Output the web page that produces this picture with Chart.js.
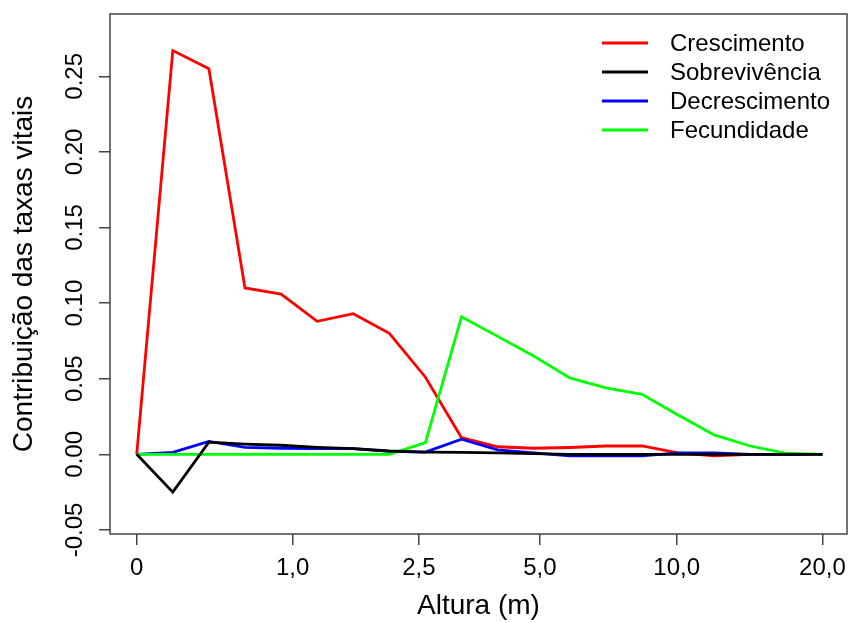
<!DOCTYPE html>
<html>
<head>
<meta charset="utf-8">
<script src="https://cdn.jsdelivr.net/npm/chart.js@4/dist/chart.umd.min.js"></script>
<style>
  body { margin: 0; background: #fff; }
  #wrap { width: 850px; height: 623px; }
</style>
</head>
<body>
<div id="wrap"><canvas id="chart" width="850" height="623"></canvas></div>
<script>
// ========================== Data ==========================
const seriesNames = ['Crescimento', 'Sobrevivência', 'Decrescimento', 'Fecundidade'];
const seriesColors = ['#ff0000', '#000000', '#0000ff', '#00ff00'];

const crescimento   = [0.000, 0.267, 0.255, 0.110, 0.106, 0.088, 0.093, 0.080, 0.051, 0.011,
                       0.005, 0.004, 0.0045, 0.0055, 0.0055, 0.001, -0.001, 0.000, 0.000, 0.000];
const sobrevivencia = [0.000, -0.025, 0.008, 0.0068, 0.006, 0.0046, 0.0037, 0.0022, 0.0015, 0.0013,
                       0.001, 0.0005, 0.000, 0.000, 0.000, 0.000, 0.000, 0.000, 0.000, 0.000];
const decrescimento = [0.000, 0.0013, 0.0085, 0.0046, 0.004, 0.0037, 0.0037, 0.002, 0.0015, 0.010,
                       0.003, 0.001, -0.001, -0.001, -0.001, 0.001, 0.001, 0.000, 0.000, 0.000];
const fecundidade   = [0.000, 0.000, 0.000, 0.000, 0.000, 0.000, 0.000, 0.000, 0.0077, 0.091,
                       0.078, 0.065, 0.0505, 0.044, 0.0397, 0.026, 0.0128, 0.0055, 0.0007, 0.000];

const allSeries = [crescimento, sobrevivencia, decrescimento, fecundidade];
const drawOrder = [3, 0, 2, 1]; // black on top, red at the bottom

// x ticks sit on the class index scale
const xTickPos = [0, 4.32, 7.82, 11.17, 14.96, 19];
const xTickLabels = ['0', '1,0', '2,5', '5,0', '10,0', '20,0'];
const yTicks = [-0.05, 0, 0.05, 0.10, 0.15, 0.20, 0.25];
const yTickLabels = ['-0.05', '0.00', '0.05', '0.10', '0.15', '0.20', '0.25'];

const FONT = "'Liberation Sans', Arial, sans-serif";

// ========================== Plugins ==========================
const boxAndLabels = {
  id: 'boxAndLabels',
  afterDraw(chart) {
    const ctx = chart.ctx;
    const a = chart.chartArea;
    ctx.save();
    ctx.strokeStyle = '#444';
    ctx.lineWidth = 1.5;
    ctx.strokeRect(a.left, a.top, a.right - a.left, a.bottom - a.top);

    // rotated y tick labels, like R's default las=0
    const ys = chart.scales.y;
    ctx.fillStyle = '#000';
    ctx.font = '24px ' + FONT;
    ctx.textAlign = 'center';
    ctx.textBaseline = 'alphabetic';
    yTicks.forEach((v, i) => {
      ctx.save();
      ctx.translate(82, ys.getPixelForValue(v));
      ctx.rotate(-Math.PI / 2);
      ctx.fillText(yTickLabels[i], 0, 0);
      ctx.restore();
    });

    // legend, top right inside the plot box
    ctx.textAlign = 'left';
    ctx.textBaseline = 'middle';
    chart.data.datasets.forEach((ds, i) => {
      const y = 43 + i * 29;
      ctx.strokeStyle = ds.borderColor;
      ctx.lineWidth = 3;
      ctx.beginPath();
      ctx.moveTo(602, y);
      ctx.lineTo(648, y);
      ctx.stroke();
      ctx.fillStyle = '#000';
      ctx.fillText(ds.label, 670, y + 1);
    });
    ctx.restore();
  }
};

// ========================== Chart ==========================
new Chart(document.getElementById('chart'), {
  type: 'line',
  data: {
    datasets: allSeries.map((vals, s) => ({
      label: seriesNames[s],
      data: vals.map((v, i) => ({ x: i, y: v })),
      borderColor: seriesColors[s],
      backgroundColor: seriesColors[s],
      borderWidth: 2.8,
      pointRadius: 0,
      tension: 0,
      fill: false,
      order: drawOrder[s]
    }))
  },
  options: {
    responsive: false,
    animation: false,
    devicePixelRatio: 1,
    layout: { padding: { top: 14, right: 3, left: 0, bottom: 0 } },
    plugins: {
      legend: { display: false },
      tooltip: { enabled: false }
    },
    scales: {
      x: {
        type: 'linear',
        min: -0.74,
        max: 19.68,
        afterBuildTicks: s => { s.ticks = xTickPos.map(v => ({ value: v })); },
        afterFit: s => { s.height = 89; s.paddingLeft = 0; s.paddingRight = 0; },
        grid: { drawOnChartArea: false, drawTicks: true, tickLength: 11, color: '#444', lineWidth: 1.5 },
        border: { display: false },
        ticks: {
          autoSkip: false,
          maxRotation: 0,
          padding: 9,
          color: '#000',
          font: { family: FONT, size: 24 },
          callback: (v, i) => xTickLabels[i]
        },
        title: {
          display: true,
          text: 'Altura (m)',
          color: '#000',
          font: { family: FONT, size: 28 },
          padding: { top: 0, bottom: 0 }
        }
      },
      y: {
        min: -0.0527,
        max: 0.2912,
        afterBuildTicks: s => { s.ticks = yTicks.map(v => ({ value: v })); },
        afterFit: s => { s.width = 110; s.paddingTop = 0; s.paddingBottom = 0; },
        grid: { drawOnChartArea: false, drawTicks: true, tickLength: 11, color: '#444', lineWidth: 1.5 },
        border: { display: false },
        ticks: { color: 'rgba(0,0,0,0)', font: { family: FONT, size: 2 } },
        title: {
          display: true,
          text: 'Contribuição das taxas vitais',
          color: '#000',
          font: { family: FONT, size: 28 },
          padding: { top: 7.5, bottom: 0 }
        }
      }
    }
  },
  plugins: [boxAndLabels]
});
</script>
</body>
</html>
